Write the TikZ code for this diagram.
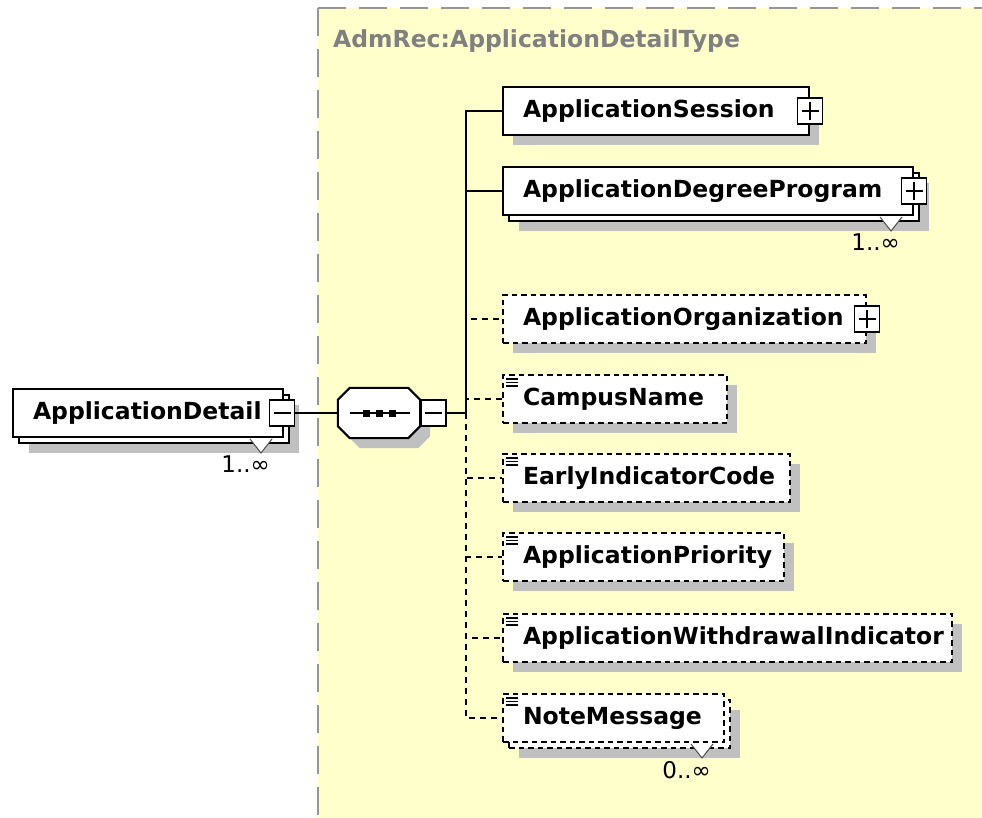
\documentclass[tikz,border=0pt]{standalone}
\usepackage{fontspec}
\setmainfont{DejaVu Sans}
\usetikzlibrary{positioning,calc,shadows}
\definecolor{panelyellow}{RGB}{255,255,204}
\definecolor{panelline}{RGB}{150,150,150}
\definecolor{titlegray}{RGB}{128,128,128}
\definecolor{shadowgray}{RGB}{192,192,192}
\newcommand{\elemfont}{\bfseries\fontsize{23.5}{28}\selectfont}
\newcommand{\cardfont}{\fontsize{23}{27}\selectfont}
\tikzset{
  elembase/.style={draw, fill=white, line width=2pt, minimum height=48pt, inner xsep=20pt, inner ysep=0pt, anchor=west, align=left, text width=#1, font=\elemfont},
  elem/.style={elembase=#1, drop shadow={shadow xshift=10pt, shadow yshift=-10pt, opacity=1, fill=shadowgray, draw=none}},
  elemmany/.style={elembase=#1, drop shadow={shadow xshift=16pt, shadow yshift=-16pt, opacity=1, fill=shadowgray, draw=none}, copy shadow={shadow xshift=6pt, shadow yshift=-6pt, draw=black, fill=white}},
  opt/.style={dash pattern=on 5.5pt off 4pt},
  xbox/.style={draw, fill=white, line width=1.6pt, minimum width=25pt, minimum height=26pt, inner sep=0pt},
  plusbox/.style={xbox, path picture={\draw[line width=1.6pt] ([xshift=4pt]path picture bounding box.west) -- ([xshift=-4pt]path picture bounding box.east) ([yshift=-4pt]path picture bounding box.north) -- ([yshift=4pt]path picture bounding box.south);}},
  minusbox/.style={xbox, path picture={\draw[line width=1.6pt] ([xshift=4pt]path picture bounding box.west) -- ([xshift=-4pt]path picture bounding box.east);}},
  seqbox/.style={minimum width=82pt, minimum height=50pt, inner sep=0pt},
  link/.style={line width=2pt},
  optlink/.style={link, dash pattern=on 6pt off 5pt},
}
\begin{document}
\begin{tikzpicture}[x=1pt, y=-1pt]
  \useasboundingbox (0,0) rectangle (982,818);
  \fill[white] (0,0) rectangle (982,818);
  \fill[panelyellow] (318,8) rectangle (990,830);
  \draw[panelline, line width=2pt, dash pattern=on 28pt off 13pt] (318,8) -- (318,830) (318,8) -- (990,8);
  \node[font=\elemfont, text=titlegray, anchor=west, inner sep=0pt] (ctitle) at (333,41) {AdmRec:ApplicationDetailType};

  \node[elemmany=230pt] (detail) at (12,413) {ApplicationDetail};
  \node[minusbox] (detailx) at ([xshift=-2pt]detail.east) {};
  \node[seqbox, right=42.5pt of detailx] (seq) {};
  \foreach \s/\c/\d in {10/shadowgray/none,0/white/black}
    \path[fill=\c, draw=\d, line width=2pt] ([shift={(12+\s,\s)}]seq.north west) -- ([shift={(-12+\s,\s)}]seq.north east)
      -- ([shift={(\s,12+\s)}]seq.north east) -- ([shift={(\s,-12+\s)}]seq.south east)
      -- ([shift={(-12+\s,\s)}]seq.south east) -- ([shift={(12+\s,\s)}]seq.south west)
      -- ([shift={(\s,-12+\s)}]seq.south west) -- ([shift={(\s,12+\s)}]seq.north west) -- cycle;
  \draw[link] ([xshift=12pt]seq.west) -- ([xshift=-10pt]seq.east);
  \foreach \dx in {-13,0,13}
    \fill ([xshift=\dx pt]seq.center) +(-3.5,-3.5) rectangle +(3.5,3.5);
  \node[minusbox, right=0pt of seq] (seqx) {};
  \coordinate (trunk) at (466,413);

  \node[elem=266pt] (ses) at (502,111) {ApplicationSession};
  \node[plusbox] (sesx) at (ses.east) {};
  \node[elemmany=370pt] (deg) at (502,191) {ApplicationDegreeProgram};
  \node[plusbox] (degx) at (deg.east) {};
  \node[elem=323pt, opt] (org) at (502,319) {ApplicationOrganization};
  \node[plusbox] (orgx) at (org.east) {};
  \node[elem=184pt, opt] (campus) at (502,399) {CampusName};
  \node[elem=247pt, opt] (early) at (502,478) {EarlyIndicatorCode};
  \node[elem=241pt, opt] (prio) at (502,557) {ApplicationPriority};
  \node[elem=409pt, opt] (withdraw) at (502,638) {ApplicationWithdrawalIndicator};
  \node[elemmany=181pt, opt] (note) at (502,718) {NoteMessage};

  \draw[link] (detailx.east) -- (seq.west);
  \draw[link] (seqx.east) -- (trunk);
  \draw[link] (trunk) |- (ses.west);
  \draw[link] (trunk) |- (deg.west);
  \foreach \n in {org,campus,early,prio,withdraw,note}
    \draw[optlink] (trunk) |- (\n.west);

  \foreach \n/\c in {detail/1,deg/1,note/0}{
    \filldraw[fill=white, draw=black!70, line width=1pt] ($(\n.south east)+(-34,1)$) -- ++(11,14) -- ++(11,-14);
    \node[font=\cardfont, anchor=north east, inner sep=0pt] (\n-card) at ($(\n.south east)+(-14,18)$) {\c..∞};
  }
  \foreach \n in {campus,early,prio,withdraw,note}
    \foreach \dy in {5,8.5,12}
      \draw[line width=1.2pt] ($(\n.north west)+(4,\dy)$) -- ++(12,0);
\end{tikzpicture}
\end{document}
